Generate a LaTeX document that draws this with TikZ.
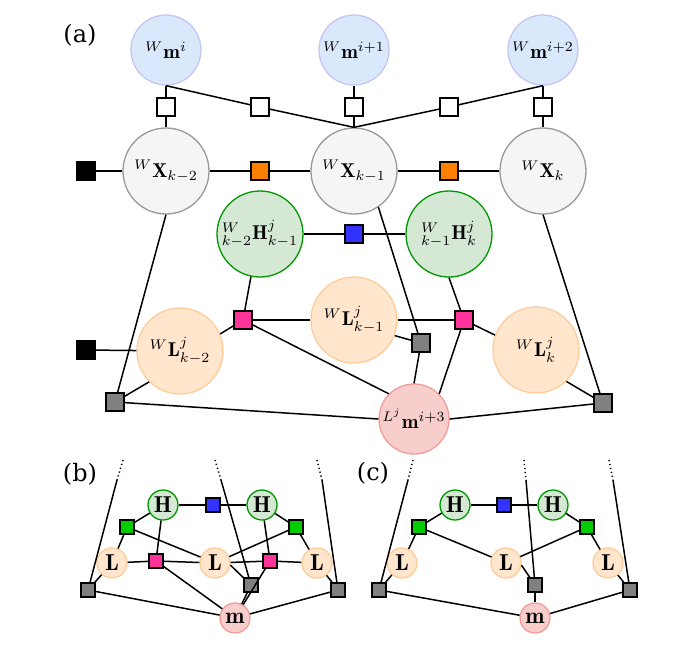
\documentclass[tikz,border=0pt]{standalone}
\usepackage{amsmath}
\usepackage{fontspec}
\newfontfamily\labfont{DejaVu Serif}
\definecolor{bfill}{HTML}{DAE8FC}
\definecolor{bdraw}{HTML}{C5C5F5}
\definecolor{gfill}{HTML}{F5F5F5}
\definecolor{gdraw}{HTML}{999999}
\definecolor{hfill}{HTML}{D5E8D4}
\definecolor{hdraw}{HTML}{009900}
\definecolor{lfill}{HTML}{FFE6CC}
\definecolor{ldraw}{HTML}{FFCC99}
\definecolor{rfill}{HTML}{F8CECC}
\definecolor{rdraw}{HTML}{F19C99}
\definecolor{sqorange}{HTML}{FF8000}
\definecolor{sqblue}{HTML}{3333FF}
\definecolor{sqpink}{HTML}{FF3399}
\definecolor{sqgreen}{HTML}{00CC00}
\definecolor{sqgrey}{HTML}{808080}
\begin{document}
\begin{tikzpicture}[x=0.5pt,y=-0.5pt,
  circ/.style={circle, inner sep=0pt, line width=0.65pt},
  mcirc/.style={circ, minimum size=35pt, fill=bfill, draw=bdraw},
  xcirc/.style={circ, minimum size=43pt, fill=gfill, draw=gdraw},
  hcirc/.style={circ, minimum size=43pt, fill=hfill, draw=hdraw},
  lcirc/.style={circ, minimum size=43pt, fill=lfill, draw=ldraw},
  rcirc/.style={circ, minimum size=35pt, fill=rfill, draw=rdraw},
  smallc/.style={circ, minimum size=15pt, font=\fontsize{11.5}{13}\selectfont},
  shcirc/.style={smallc, fill=hfill, draw=hdraw},
  slcirc/.style={smallc, fill=lfill, draw=ldraw},
  srcirc/.style={smallc, fill=rfill, draw=rdraw},
  fac/.style={rectangle, draw=black, line width=0.6pt, inner sep=0pt, minimum size=9pt},
  sfac/.style={fac, minimum size=7pt},
  wfac/.style={fac, fill=white},
  kfac/.style={fac, fill=black},
  ofac/.style={fac, fill=sqorange},
  ufac/.style={fac, fill=sqblue},
  pfac/.style={fac, fill=sqpink},
  gyfac/.style={fac, fill=sqgrey},
  conn/.style={line width=0.75pt},
  dotconn/.style={line width=0.75pt, dash pattern=on 0.6pt off 1.4pt},
  panel/.style={font=\labfont\fontsize{12}{14}\selectfont, inner sep=0pt}
]
\useasboundingbox (0,0) rectangle (698,654);

% ---------- panel (a) ----------
\node[panel] (la) at (80,35) {(a)};
\node[mcirc] (mi) at (166,50) {${}^{W}\mathbf{m}^{i}$};
\node[mcirc] (mi1) at (354,50) {${}^{W}\mathbf{m}^{i+1}$};
\node[mcirc] (mi2) at (543,50) {${}^{W}\mathbf{m}^{i+2}$};
\node[wfac] (w0) at (166,107) {};
\node[wfac] (w1) at (260,107) {};
\node[wfac] (w2) at (354,107) {};
\node[wfac] (w3) at (449,107) {};
\node[wfac] (w4) at (543,107) {};
\node[xcirc] (X0) at (166,171) {${}^{W}\mathbf{X}_{k-2}$};
\node[xcirc] (X1) at (354,171) {${}^{W}\mathbf{X}_{k-1}$};
\node[xcirc] (X2) at (543,171) {${}^{W}\mathbf{X}_{k}$};
\node[kfac] (k0) at (86,171) {};
\node[ofac] (o0) at (260,171) {};
\node[ofac] (o1) at (449,171) {};
\node[hcirc] (H0) at (260,234) {${}^{W}_{k-2}\mathbf{H}^{j}_{k-1}$};
\node[hcirc] (H1) at (449,234) {${}^{W}_{k-1}\mathbf{H}^{j}_{k}$};
\node[ufac] (u0) at (354,234) {};
\node[pfac] (p0) at (243,320) {};
\node[pfac] (p1) at (464,320) {};
\node[lcirc] (L0) at (180,351) {${}^{W}\mathbf{L}^{j}_{k-2}$};
\node[lcirc] (L1) at (354,320) {${}^{W}\mathbf{L}^{j}_{k-1}$};
\node[lcirc] (L2) at (536,350) {${}^{W}\mathbf{L}^{j}_{k}$};
\node[kfac] (k1) at (86,350) {};
\node[gyfac] (g0) at (115,402) {};
\node[gyfac] (g1) at (421,343) {};
\node[gyfac] (g2) at (603,403) {};
\node[rcirc] (m3) at (414,419) {${}^{L^{j}}\mathbf{m}^{i+3}$};

\draw[conn] (mi) -- (w0) -- (X0);
\draw[conn] (mi1) -- (w2) -- (X1);
\draw[conn] (mi2) -- (w4) -- (X2);
\draw[conn] (mi.south) -- (w1) -- (X1.north);
\draw[conn] (mi2.south) -- (w3) -- (X1.north);
\draw[conn] (k0) -- (X0) -- (o0) -- (X1) -- (o1) -- (X2);
\draw[conn] (H0) -- (u0) -- (H1);
\draw[conn] (X0.south) -- (g0);
\draw[conn] (L0.-135) -- (g0);
\draw[conn] (g0) -- (m3.west);
\draw[conn] (k1) -- (L0);
\draw[conn] (H0.-102) -- (p0);
\draw[conn] (p0) -- (L1);
\draw[conn] (p0) -- (L0.23);
\draw[conn] (p0) -- (m3.135);
\draw[conn] (X1.-56) -- (g1);
\draw[conn] (L1.-21) -- (g1);
\draw[conn] (g1) -- (m3.north);
\draw[conn] (H1.south) -- (p1);
\draw[conn] (L1) -- (p1);
\draw[conn] (p1) -- (L2.160);
\draw[conn] (p1) -- (m3.45);
\draw[conn] (X2.south) -- (g2);
\draw[conn] (L2.-46) -- (g2);
\draw[conn] (g2) -- (m3.east);

% ---------- panel (b) ----------
\node[panel] (lb) at (80,474) {(b)};
\coordinate (tb0) at (123,460); \coordinate (sb0) at (117,480);
\coordinate (tb1) at (215,460); \coordinate (sb1) at (221,480);
\coordinate (tb2) at (317,460); \coordinate (sb2) at (322,480);
\node[shcirc] (Hb0) at (163,505) {$\mathbf{H}$};
\node[shcirc] (Hb1) at (262,505) {$\mathbf{H}$};
\node[sfac, fill=sqblue] (ub) at (213,505) {};
\node[sfac, fill=sqgreen] (gb0) at (127,527) {};
\node[sfac, fill=sqgreen] (gb1) at (296,527) {};
\node[slcirc] (Lb0) at (112,563) {$\mathbf{L}$};
\node[slcirc] (Lb1) at (215,563) {$\mathbf{L}$};
\node[slcirc] (Lb2) at (317,563) {$\mathbf{L}$};
\node[sfac, fill=sqpink] (pb0) at (156,561) {};
\node[sfac, fill=sqpink] (pb1) at (270,561) {};
\node[sfac, fill=sqgrey] (kb0) at (88,590) {};
\node[sfac, fill=sqgrey] (kb1) at (251,585) {};
\node[sfac, fill=sqgrey] (kb2) at (338,590) {};
\node[srcirc] (mb) at (235,618) {$\mathbf{m}$};

\draw[dotconn] (tb0) -- (sb0);
\draw[dotconn] (tb1) -- (sb1);
\draw[dotconn] (tb2) -- (sb2);
\draw[conn] (sb0) -- (kb0);
\draw[conn] (sb1) -- (kb1);
\draw[conn] (sb2) -- (kb2);
\draw[conn] (Hb0) -- (ub) -- (Hb1);
\draw[conn] (Hb0) -- (gb0);
\draw[conn] (Hb1) -- (gb1);
\draw[conn] (gb0) -- (Lb0);
\draw[conn] (gb0) -- (Lb1);
\draw[conn] (gb1) -- (Lb1);
\draw[conn] (gb1) -- (Lb2);
\draw[conn] (Hb0) -- (pb0);
\draw[conn] (Hb1) -- (pb1);
\draw[conn] (Lb0) -- (pb0) -- (Lb1) -- (pb1) -- (Lb2);
\draw[conn] (Lb0) -- (kb0);
\draw[conn] (Lb1.-8) -- (kb1);
\draw[conn] (Lb2) -- (kb2);
\draw[conn] (pb0) -- (mb);
\draw[conn] (pb1) -- (mb);
\draw[conn] (kb0) -- (mb);
\draw[conn] (kb1) -- (mb);
\draw[conn] (kb2) -- (mb);

% ---------- panel (c) ----------
\node[panel] (lc) at (373,473) {(c)};
\coordinate (tc0) at (413,460); \coordinate (sc0) at (408,480);
\coordinate (tc1) at (524,460); \coordinate (sc1) at (526,480);
\coordinate (tc2) at (609,460); \coordinate (sc2) at (613,480);
\node[shcirc] (Hc0) at (455,505) {$\mathbf{H}$};
\node[shcirc] (Hc1) at (553,505) {$\mathbf{H}$};
\node[sfac, fill=sqblue] (uc) at (504,505) {};
\node[sfac, fill=sqgreen] (gc0) at (419,527) {};
\node[sfac, fill=sqgreen] (gc1) at (587,527) {};
\node[slcirc] (Lc0) at (402,563) {$\mathbf{L}$};
\node[slcirc] (Lc1) at (506,563) {$\mathbf{L}$};
\node[slcirc] (Lc2) at (608,563) {$\mathbf{L}$};
\node[sfac, fill=sqgrey] (kc0) at (379,590) {};
\node[sfac, fill=sqgrey] (kc1) at (535,585) {};
\node[sfac, fill=sqgrey] (kc2) at (630,590) {};
\node[srcirc] (mc) at (535,618) {$\mathbf{m}$};

\draw[dotconn] (tc0) -- (sc0);
\draw[dotconn] (tc1) -- (sc1);
\draw[dotconn] (tc2) -- (sc2);
\draw[conn] (sc0) -- (kc0);
\draw[conn] (sc1) -- (kc1);
\draw[conn] (sc2) -- (kc2);
\draw[conn] (Hc0) -- (uc) -- (Hc1);
\draw[conn] (Hc0) -- (gc0);
\draw[conn] (Hc1) -- (gc1);
\draw[conn] (gc0) -- (Lc0);
\draw[conn] (gc0) -- (Lc1);
\draw[conn] (gc1) -- (Lc1);
\draw[conn] (gc1) -- (Lc2);
\draw[conn] (Lc0) -- (kc0);
\draw[conn] (Lc1.-8) -- (kc1);
\draw[conn] (Lc2) -- (kc2);
\draw[conn] (kc0) -- (mc);
\draw[conn] (kc1) -- (mc);
\draw[conn] (kc2) -- (mc);
\end{tikzpicture}
\end{document}
